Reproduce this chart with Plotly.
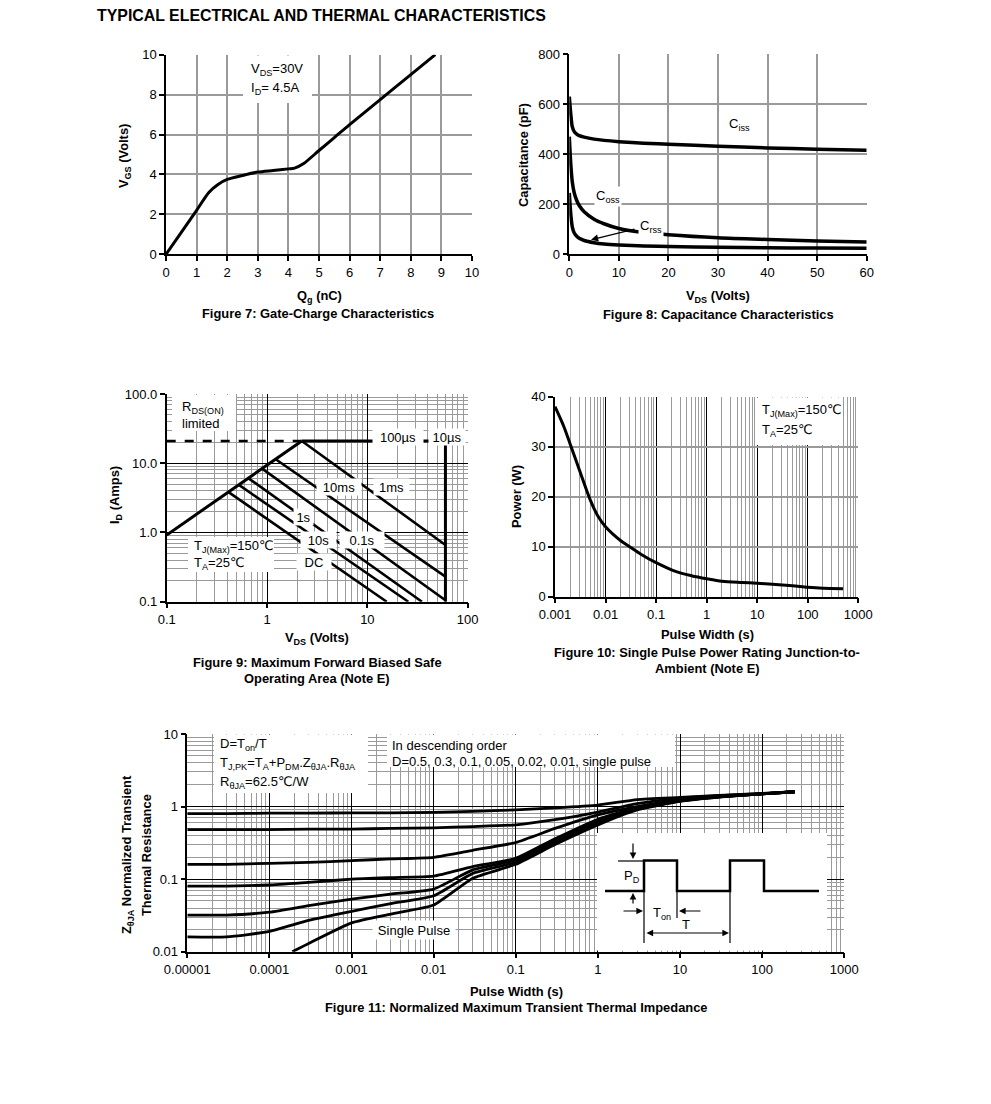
import numpy as np
import plotly.graph_objects as go

W, H = 991, 1104
FONT = "Arial, 'Liberation Sans', 'DejaVu Sans', sans-serif"
GRID = "#9a9a9a"
TS = 13     # tick / label font size
BS = 12.9   # bold caption size

# ---------------- Figure 7: gate charge ----------------
qg_nc = [0, 0.5, 1.0, 1.4, 1.7, 2.0, 2.5, 3.0, 3.5, 4.0, 4.2, 4.5, 5.0, 5.5, 6.0, 7.0, 8.0, 8.8]
vgs_v = [0, 1.1, 2.2, 3.1, 3.5, 3.75, 3.95, 4.12, 4.2, 4.28, 4.32, 4.55, 5.2, 5.85, 6.5, 7.75, 9.0, 10.0]

# ---------------- Figure 8: capacitance ----------------
vds_cap = [0, 0.3, 0.6, 1, 1.5, 2, 3, 5, 7, 10, 15, 20, 30, 40, 50, 60]
ciss_pf = [630, 560, 510, 490, 480, 474, 468, 460, 455, 450, 444, 440, 432, 425, 420, 416]
coss_pf = [470, 360, 290, 245, 215, 195, 170, 140, 122, 103, 87, 78, 66, 59, 53, 49]
crss_pf = [245, 160, 110, 85, 72, 64, 55, 46, 41, 37, 33, 31, 28, 26, 25, 24]

# ---------------- Figure 9: SOA ----------------
rds_v = [0.1, 2.22]
rds_i = [0.92, 21.0]
lim_v = [0.1, 2.22]
lim_i = [21.0, 21.0]
us100_v = [2.22, 60.0]
us100_i = [21.0, 21.0]
us10_v = [60.0, 60.0]
us10_i = [0.1, 19.6]
soa_names = ["1ms", "10ms", "0.1s", "1s", "10s", "DC"]
soa_v_start = [2.22, 1.22, 0.90, 0.65, 0.52, 0.41]
soa_i_start = [21.0, 11.4, 8.3, 6.1, 4.9, 3.85]
soa_v_end = [60.0, 60.0, 60.0, 35.0, 25.6, 15.6]
soa_i_end = [0.66, 0.23, 0.105, 0.1, 0.1, 0.1]
soa_label_text = ["100µs", "10µs", "10ms", "1ms", "1s", "10s", "0.1s", "DC"]
soa_label_v = [20.2, 62.4, 5.2, 17.2, 2.29, 3.23, 8.9, 2.94]
soa_label_i = [24.0, 24.0, 4.5, 4.5, 1.69, 0.776, 0.776, 0.377]
soa_label_w = [48, 34, 42, 33, 17, 33, 42, 32]

# ---------------- Figure 10: single pulse power ----------------
pulse_s = [0.001, 0.0015, 0.002, 0.003, 0.005, 0.007, 0.01, 0.02, 0.03, 0.05, 0.1, 0.25,
           0.5, 1, 2, 5, 10, 20, 50, 100, 200, 500]
power_w = [38, 34, 30.5, 25.5, 19.3, 16.2, 14, 11.2, 10, 8.5, 6.8, 5.0,
           4.2, 3.6, 3.1, 2.85, 2.7, 2.5, 2.2, 1.9, 1.7, 1.6]

# ---------------- Figure 11: transient thermal impedance ----------------
zth_t = [1e-5, 3e-5, 1e-4, 3e-4, 1e-3, 3e-3, 0.01, 0.03, 0.1, 0.3, 1, 3, 10, 30, 100, 250]
zth_d050 = [0.80, 0.80, 0.81, 0.81, 0.82, 0.82, 0.83, 0.86, 0.90, 0.96, 1.05, 1.25, 1.34, 1.43, 1.52, 1.60]
zth_d030 = [0.48, 0.48, 0.48, 0.49, 0.49, 0.50, 0.51, 0.53, 0.56, 0.66, 0.84, 1.10, 1.30, 1.41, 1.51, 1.60]
zth_d010 = [0.16, 0.16, 0.165, 0.17, 0.18, 0.19, 0.20, 0.25, 0.32, 0.50, 0.77, 1.00, 1.24, 1.38, 1.50, 1.60]
zth_d005 = [0.080, 0.080, 0.083, 0.09, 0.10, 0.105, 0.11, 0.149, 0.194, 0.36, 0.67, 0.96, 1.22, 1.37, 1.50, 1.60]
zth_d002 = [0.032, 0.032, 0.035, 0.043, 0.053, 0.062, 0.073, 0.134, 0.184, 0.34, 0.62, 0.93, 1.20, 1.36, 1.50, 1.60]
zth_d001 = [0.016, 0.016, 0.019, 0.027, 0.036, 0.046, 0.059, 0.120, 0.171, 0.32, 0.59, 0.92, 1.19, 1.36, 1.50, 1.60]
single_t = [1.9e-4, 3e-4, 1e-3, 3e-3, 0.01, 0.03, 0.1, 0.3, 1, 3, 10, 30, 100, 250]
single_z = [0.010, 0.013, 0.025, 0.033, 0.044, 0.103, 0.160, 0.30, 0.56, 0.90, 1.18, 1.35, 1.50, 1.60]

# tick labels
f9_xticks = [0.1, 1, 10, 100]
f9_xtext = ["0.1", "1", "10", "100"]
f9_yticks = [0.1, 1, 10, 100]
f9_ytext = ["0.1", "1.0", "10.0", "100.0"]
f10_xticks = [0.001, 0.01, 0.1, 1, 10, 100, 1000]
f10_xtext = ["0.001", "0.01", "0.1", "1", "10", "100", "1000"]
f11_xticks = [1e-5, 1e-4, 1e-3, 1e-2, 0.1, 1, 10, 100, 1000]
f11_xtext = ["0.00001", "0.0001", "0.001", "0.01", "0.1", "1", "10", "100", "1000"]
f11_yticks = [0.01, 0.1, 1, 10]
f11_ytext = ["0.01", "0.1", "1", "10"]

# plot-area pixel extents (left, right, top, bottom) per subplot
DOM = {"": (166, 472, 54.7, 254.3), "2": (569.3, 866.7, 54, 254.3), "3": (166.7, 467.7, 394, 601.7),
       "4": (555, 858.3, 396.7, 596.7), "5": (187.3, 844.3, 734, 951.7)}


# ---------------- helpers ----------------
def dom_x(s):
    L, R, T, B = DOM[s]
    return [L / W, R / W]


def dom_y(s):
    L, R, T, B = DOM[s]
    return [1 - B / H, 1 - T / H]


def PX(x):
    return x / W


def PY(y):
    return 1 - y / H


def minor_log(lo, hi):
    return [m * 10.0 ** k for k in range(lo, hi) for m in range(2, 10)]


def axis(**kw):
    d = dict(showline=True, linecolor="black", linewidth=1.5, ticks="outside", ticklen=5,
             tickwidth=1.5, tickcolor="black", showgrid=True, gridcolor=GRID, gridwidth=1.5,
             zeroline=False, automargin=False,
             tickfont=dict(size=TS, family=FONT, color="black"), fixedrange=True)
    d.update(kw)
    return d


def log_axis(lo, hi, tickvals, ticktext, **kw):
    return axis(type="log", range=[lo, hi], tickmode="array", tickvals=tickvals, ticktext=ticktext,
                gridcolor="black", gridwidth=1,
                minor=dict(tickmode="array", tickvals=minor_log(lo, hi), showgrid=True,
                           gridcolor=GRID, gridwidth=1.3, ticks=""), **kw)


def txt(text, xp, yp, size=TS, bold=False, xanchor="center", yanchor="middle", angle=0):
    if bold:
        text = "<b>" + text + "</b>"
    return dict(text=text, x=PX(xp), y=PY(yp), xref="paper", yref="paper", showarrow=False,
                font=dict(size=size, family=FONT, color="black"), xanchor=xanchor,
                yanchor=yanchor, textangle=angle)


def white_box(x0, y0, x1, y1):
    return dict(type="rect", xref="paper", yref="paper", x0=PX(x0), x1=PX(x1), y0=PY(y1), y1=PY(y0),
                fillcolor="white", line=dict(width=0), layer="above")


def seg(x0, y0, x1, y1, w=1.2):
    return dict(type="line", xref="paper", yref="paper", x0=PX(x0), x1=PX(x1), y0=PY(y0), y1=PY(y1),
                line=dict(color="black", width=w), layer="above")


def arrow(hx, hy, ax, ay, both=False):
    d = dict(text="", x=PX(hx), y=PY(hy), xref="paper", yref="paper", showarrow=True,
             ax=ax, ay=ay, axref="pixel", ayref="pixel", arrowhead=2, arrowsize=1.1,
             arrowwidth=1.2, arrowcolor="black")
    if both:
        d["arrowside"] = "end+start"
    return d


fig = go.Figure()
LW = 3


def line(x, y, xa, ya, width=LW, dash="solid", shape="spline", smooth=0.8):
    ln = dict(color="black", width=width, dash=dash, shape=shape)
    if shape == "spline":
        ln["smoothing"] = smooth
    fig.add_trace(go.Scatter(x=x, y=y, mode="lines", xaxis=xa, yaxis=ya, hoverinfo="skip", line=ln))


# Figure 7
line(qg_nc, vgs_v, "x", "y")
# Figure 8
line(vds_cap, ciss_pf, "x2", "y2", width=3.5)
line(vds_cap, coss_pf, "x2", "y2", width=3.5)
line(vds_cap, crss_pf, "x2", "y2", width=3.5)
# Figure 9
line(rds_v, rds_i, "x3", "y3", width=3, shape="linear")
line(lim_v, lim_i, "x3", "y3", width=2.5, dash="dash", shape="linear")
line(us100_v, us100_i, "x3", "y3", width=3, shape="linear")
line(us10_v, us10_i, "x3", "y3", width=3, shape="linear")
for k in range(len(soa_names)):
    line([soa_v_start[k], soa_v_end[k]], [soa_i_start[k], soa_i_end[k]], "x3", "y3", width=2.6,
         shape="linear")
# Figure 10
line(pulse_s, power_w, "x4", "y4", width=3)
# Figure 11
for zz in [zth_d050, zth_d030, zth_d010, zth_d005, zth_d002, zth_d001]:
    line(zth_t, zz, "x5", "y5", width=2.8, smooth=0.5)
line(single_t, single_z, "x5", "y5", width=2.8, smooth=0.5)

annotations = []
shapes = []

# page title
annotations.append(txt("TYPICAL ELECTRICAL AND THERMAL CHARACTERISTICS", 95, 15, size=15.9, bold=True,
                       xanchor="left"))

# ---- Figure 7 texts
annotations += [
    txt("Q<sub>g</sub> (nC)", 319, 296, size=BS, bold=True),
    txt("V<sub>GS</sub> (Volts)", 125, 156, size=BS, bold=True, angle=-90),
    txt("Figure 7: Gate-Charge Characteristics", 318, 313, size=BS, bold=True),
    txt("V<sub>DS</sub>=30V", 249, 70, xanchor="left"),
    txt("I<sub>D</sub>= 4.5A", 249, 88, xanchor="left"),
]
shapes.append(white_box(243, 55.5, 312, 103))

# ---- Figure 8 texts
annotations += [
    txt("V<sub>DS</sub> (Volts)", 718, 296, size=BS, bold=True),
    txt("Capacitance (pF)", 523, 155, size=BS, bold=True, angle=-90),
    txt("Figure 8: Capacitance Characteristics", 718, 314, size=BS, bold=True),
    dict(text="C<sub>iss</sub>", x=34.4, y=520, xref="x2", yref="y2", showarrow=False,
         font=dict(size=TS, family=FONT, color="black")),
    dict(text="C<sub>oss</sub>", x=7.8, y=232, xref="x2", yref="y2", showarrow=False, bgcolor="white",
         font=dict(size=TS, family=FONT, color="black")),
    dict(text="", x=4.38, y=58, xref="x2", yref="y2", showarrow=True, ax=45, ay=-11,
         arrowhead=2, arrowsize=1.1, arrowwidth=1.3, arrowcolor="black"),
    dict(text="C<sub>rss</sub>", x=16.5, y=113, xref="x2", yref="y2", showarrow=False, bgcolor="white",
         font=dict(size=TS, family=FONT, color="black")),
]

# ---- Figure 9 texts
annotations += [
    txt("V<sub>DS</sub> (Volts)", 317, 638, size=BS, bold=True),
    txt("I<sub>D</sub> (Amps)", 115, 495, size=BS, bold=True, angle=-90),
    txt("Figure 9: Maximum Forward Biased Safe", 317, 662, size=BS, bold=True),
    txt("Operating Area (Note E)", 317, 678, size=BS, bold=True),
    txt("R<sub>DS(ON)</sub>", 180, 407, xanchor="left"),
    txt("limited", 180, 424, xanchor="left"),
    txt("T<sub>J(Max)</sub>=150℃", 192, 546, xanchor="left"),
    txt("T<sub>A</sub>=25℃", 192, 563, xanchor="left"),
]
shapes.append(white_box(172, 395, 236, 431))
shapes.append(white_box(188, 537, 274, 572))
for k, t in enumerate(soa_label_text):
    annotations.append(dict(text=t, x=np.log10(soa_label_v[k]), y=np.log10(soa_label_i[k]),
                            xref="x3", yref="y3", showarrow=False, bgcolor="white",
                            width=soa_label_w[k], height=14,
                            font=dict(size=TS, family=FONT, color="black")))

# ---- Figure 10 texts
annotations += [
    txt("Pulse Width (s)", 707, 634, size=BS, bold=True),
    txt("Power (W)", 517, 497, size=BS, bold=True, angle=-90),
    txt("Figure 10: Single Pulse Power Rating Junction-to-", 707, 652, size=BS, bold=True),
    txt("Ambient (Note E)", 707, 668, size=BS, bold=True),
    txt("T<sub>J(Max)</sub>=150℃", 760, 411, xanchor="left"),
    txt("T<sub>A</sub>=25℃", 760, 430, xanchor="left"),
]
shapes.append(white_box(755, 397.5, 843, 445))

# ---- Figure 11 texts
annotations += [
    txt("Pulse Width (s)", 516, 991, size=BS, bold=True),
    txt("Figure 11: Normalized Maximum Transient Thermal Impedance", 516, 1008, size=BS, bold=True),
    txt("Z<sub>θJA</sub> Normalized Transient", 127, 855, size=BS, bold=True, angle=-90),
    txt("Thermal Resistance", 146, 855, size=BS, bold=True, angle=-90),
    txt("D=T<sub>on</sub>/T", 218, 744, xanchor="left"),
    txt("T<sub>J,PK</sub>=T<sub>A</sub>+P<sub>DM</sub>.Z<sub>θJA</sub>.R<sub>θJA</sub>", 218, 763, xanchor="left"),
    txt("R<sub>θJA</sub>=62.5℃/W", 218, 782, xanchor="left"),
    txt("In descending order", 390, 745, xanchor="left"),
    txt("D=0.5, 0.3, 0.1, 0.05, 0.02, 0.01, single pulse", 390, 761, xanchor="left"),
    dict(text="Single Pulse", x=np.log10(5.7e-3), y=np.log10(0.0198), xref="x5", yref="y5",
         showarrow=False, bgcolor="white", width=80, height=16,
         font=dict(size=TS, family=FONT, color="black")),
]
shapes.append(white_box(214, 734.5, 368, 793))
shapes.append(white_box(387, 734.5, 675, 767))

# inset pulse diagram (schematic)
shapes.append(white_box(597, 833, 827, 950.5))
wave = [(605, 891), (644, 891), (644, 860.5), (677, 860.5), (677, 891), (730, 891),
        (730, 860.5), (764, 860.5), (764, 891), (819, 891)]
path = "M " + " L ".join(f"{PX(a):.5f},{PY(b):.5f}" for a, b in wave)
shapes.append(dict(type="path", xref="paper", yref="paper", path=path,
                   line=dict(color="black", width=2.5), layer="above"))
shapes += [seg(618, 861, 644, 861), seg(644, 891, 644, 943), seg(677, 891, 677, 918),
           seg(730, 891, 730, 943)]
annotations += [
    arrow(633, 859, 0, -17), arrow(633, 893, 0, 12), arrow(643, 911, -21, 0), arrow(679, 911, 23, 0),
    arrow(729, 933, -84, 0, both=True),
    txt("P<sub>D</sub>", 632, 876), txt("T<sub>on</sub>", 662, 913), txt("T", 686, 924),
]

layout = dict(
    template="none",
    width=W, height=H, margin=dict(l=0, r=0, t=0, b=0, pad=0, autoexpand=False),
    paper_bgcolor="white", plot_bgcolor="white",
    showlegend=False, font=dict(family=FONT, size=TS, color="black"),
    xaxis=axis(domain=dom_x(""), range=[0, 10], dtick=1, anchor="y"),
    yaxis=axis(domain=dom_y(""), range=[0, 10], dtick=2, anchor="x"),
    xaxis2=axis(domain=dom_x("2"), range=[0, 60], dtick=10, anchor="y2"),
    yaxis2=axis(domain=dom_y("2"), range=[0, 800], dtick=200, anchor="x2"),
    xaxis3=log_axis(-1, 2, f9_xticks, f9_xtext, domain=dom_x("3"), anchor="y3"),
    yaxis3=log_axis(-1, 2, f9_yticks, f9_ytext, domain=dom_y("3"), anchor="x3"),
    xaxis4=log_axis(-3, 3, f10_xticks, f10_xtext, domain=dom_x("4"), anchor="y4"),
    yaxis4=axis(domain=dom_y("4"), range=[0, 40], dtick=10, anchor="x4"),
    xaxis5=log_axis(-5, 3, f11_xticks, f11_xtext, domain=dom_x("5"), anchor="y5"),
    yaxis5=log_axis(-2, 1, f11_yticks, f11_ytext, domain=dom_y("5"), anchor="x5"),
    annotations=annotations, shapes=shapes,
)
fig.update_layout(**layout)
fig.write_html("out.html", config={"displayModeBar": False},
               post_script="document.body.style.margin='0px';document.body.style.overflow='hidden';")
